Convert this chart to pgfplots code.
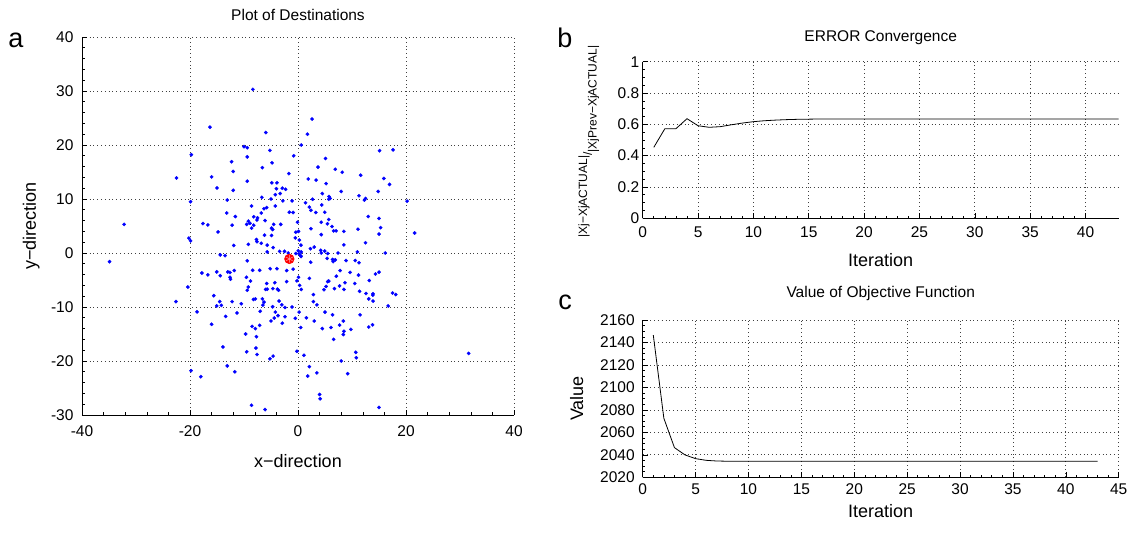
\documentclass[border=0pt]{standalone}
\usepackage{fontspec}
\setmainfont{Liberation Sans}
\usepackage{pgfplots}
\pgfplotsset{compat=1.18}
\pgfplotsset{
 mystyle/.style={
  scale only axis,
  axis x line*=bottom, axis y line*=left,
  axis line style={black, line width=0.9bp},
  tick align=inside,
  major tick length=5bp, minor tick length=2.5bp,
  tick style={black, line width=0.6bp},
  grid=major,
  major grid style={black!75, line width=0.7bp, dash pattern=on 0.8bp off 3bp},
  /pgf/number format/assume math mode=true,
  /pgf/number format/1000 sep={},
  scaled ticks=false,
  tick label style={font=\fontsize{15.5bp}{18bp}\selectfont},
 }
}
\begin{document}
\begin{tikzpicture}[x=1bp,y=1bp]
\path[use as bounding box] (0,0) rectangle (1138,533);

% ---------------- panel a ----------------
\begin{axis}[mystyle,
  at={(82bp,118bp)}, anchor=south west,
  width=432bp, height=378bp,
  xmin=-40, xmax=40, ymin=-30, ymax=40,
  xtick={-40,-20,0,20,40}, ytick={-30,-20,...,40},
  minor x tick num=4, minor y tick num=4,
  xticklabel style={yshift=-7bp},
  yticklabel style={xshift=-5bp},
  title={Plot of Destinations},
  every axis title/.style={at={(axis description cs:0.5,1)}, anchor=base, yshift=16.5bp, font=\fontsize{15.5bp}{18bp}\selectfont},
  xlabel={x−direction},
  every axis x label/.style={at={(axis description cs:0.5,0)}, anchor=base, yshift=-53bp, font=\fontsize{18bp}{21bp}\selectfont},
  ylabel={y−direction},
  every axis y label/.style={at={(axis description cs:-0.1065,0.5)}, rotate=90, anchor=base, font=\fontsize{18bp}{21bp}\selectfont},
]
\addplot[only marks, mark=*, mark size=1.7bp, mark options={draw=blue, fill=blue, line width=0.3bp}] table {
x y
-16.3 23.3
-5.96 22.3
-10.0 19.7
-9.4 19.5
-5.2 19.0
-19.75 18.2
-0.8 18.0
-9.4 17.8
-12.3 16.9
-4.8 16.7
-6.6 15.8
-12.0 15.1
-1.7 14.7
-22.5 13.9
-16.0 14.1
-9.4 13.3
-4.85 13.0
-3.9 13.0
-15.0 12.05
-4.0 11.9
-2.9 12.0
-2.3 11.8
-12.0 11.6
-3.3 11.0
-4.2 10.8
-6.7 10.3
-19.9 9.5
-13.1 9.8
-5.0 10.0
-2.8 9.65
-1.1 9.65
-8.6 8.7
-4.2 8.7
-5.8 8.4
-6.3 8.2
-6.8 7.4
-13.2 7.4
-1.6 7.55
-0.9 7.5
-11.6 6.75
-8.2 6.7
-7.5 6.5
-7.6 6.1
-9.2 5.9
-6.1 6.0
-8.9 5.5
-17.6 5.45
-16.7 5.2
-9.5 5.3
-12.2 5.15
-8.2 5.15
-4.5 5.3
-3.2 5.3
-8.6 4.6
-4.9 4.6
-4.7 4.35
-0.1 5.7
-14.8 3.9
-0.4 3.85
0.1 4.0
-6.2 3.3
-4.9 3.25
-20.2 2.75
-19.9 2.25
-0.5 2.8
0.25 2.4
-7.7 2.5
-7.6 2.1
-6.8 1.8
-9.2 1.6
-11.9 1.4
-5.7 1.45
-4.6 1.0
-3.4 0.3
-2.5 0.3
-5.7 0.2
-14.4 -0.35
-13.5 -0.5
-1.8 0.0
0.05 0.4
-0.4 -0.1
2.6 24.8
1.74 22.0
0.6 20.0
15.1 18.95
17.6 19.1
5.1 17.5
3.7 15.9
6.9 15.5
8.2 14.95
11.6 14.4
1.9 13.7
3.35 13.5
15.9 13.8
5.2 12.85
16.95 12.7
8.0 11.4
14.85 11.4
4.5 11.0
5.75 10.45
5.95 10.1
5.7 9.95
11.3 10.6
12.5 10.1
12.3 9.8
2.7 9.95
20.2 9.6
1.4 9.3
2.1 8.5
4.4 8.9
2.4 7.9
3.3 7.5
4.95 7.55
13.0 6.75
15.0 6.4
5.7 6.2
4.3 5.7
5.45 5.4
6.3 4.9
2.4 4.5
15.3 4.7
11.1 4.4
6.6 4.1
7.05 4.1
8.5 4.0
4.3 3.4
15.0 3.5
21.6 3.7
12.5 1.9
8.5 1.5
0.55 1.45
3.0 1.1
2.3 0.8
4.2 0.5
4.95 0.35
0.6 0.2
4.3 0.0
5.5 -0.1
7.4 0.0
11.0 0.2
16.15 0.0
0.5 -0.5
0.2 -0.15
-9.4 -1.45
-17.8 -3.7
-16.7 -4.05
-15.05 -3.5
-14.4 -4.2
-13.0 -3.5
-12.6 -3.6
-11.8 -3.25
-12.6 -4.5
-12.5 -4.85
-9.55 -4.5
-8.4 -3.2
-7.1 -3.2
-5.15 -2.9
-3.9 -2.9
-2.1 -3.25
-0.9 -3.0
-8.8 -5.2
-20.4 -6.3
-9.2 -6.3
-9.4 -6.9
-5.8 -5.65
-4.3 -5.5
-6.0 -6.75
-5.7 -6.7
-4.65 -6.6
-3.8 -6.7
-3.6 -6.9
-2.1 -5.3
-0.2 -5.15
0.1 -4.5
0.3 -6.0
-22.6 -9.0
-15.6 -7.9
-14.5 -9.0
-15.05 -9.8
-14.2 -9.7
-12.2 -9.0
-10.5 -9.4
-8.25 -8.6
-7.9 -8.5
-6.6 -8.5
-6.3 -9.1
-6.5 -9.65
-3.5 -8.9
-3.0 -9.6
-4.7 -9.96
-2.4 -10.1
-1.1 -10.0
-18.7 -10.9
-13.4 -11.75
-11.3 -11.1
-7.0 -10.8
-4.2 -10.95
-3.7 -11.6
-4.4 -12.05
-5.0 -12.6
-2.4 -11.8
-0.5 -12.1
0.2 -10.95
-2.9 -13.0
-16.0 -13.2
-8.5 -13.6
-7.9 -14.0
-7.1 -13.4
0.5 -13.8
-9.7 -15.0
-7.7 -15.5
-13.9 -17.4
-7.8 -17.6
-9.5 -18.3
-7.6 -18.8
-0.2 -18.2
-4.6 -19.1
-5.2 -19.6
-19.8 -21.8
-13.1 -20.9
-11.7 -22.0
-18.0 -22.9
-8.6 -28.2
-6.1 -29.0
0.56 -0.66
2.35 -1.7
5.4 -1.0
6.4 -1.2
6.9 -1.27
6.5 -1.6
8.9 -1.4
10.6 -1.4
11.3 -1.8
7.8 -3.25
9.65 -3.6
11.2 -4.1
14.35 -3.9
15.0 -3.55
2.1 -4.7
7.1 -4.3
5.7 -5.2
5.5 -5.3
13.2 -5.1
8.7 -5.5
10.5 -5.65
0.6 -6.75
4.8 -6.8
5.2 -6.2
7.7 -6.1
6.75 -6.6
8.5 -6.75
11.4 -7.1
12.6 -7.5
13.9 -7.56
13.85 -7.8
17.5 -7.4
18.1 -7.7
2.85 -7.7
13.1 -8.5
13.9 -8.9
2.85 -9.0
3.5 -9.6
16.7 -9.8
1.55 -12.0
3.0 -12.6
5.0 -10.95
6.4 -11.45
11.5 -11.45
4.5 -14.0
6.1 -13.8
7.7 -13.35
8.4 -12.6
9.8 -14.15
8.5 -14.5
8.4 -15.1
13.1 -13.7
13.8 -13.3
6.6 -16.0
10.7 -18.4
10.8 -19.4
1.1 -18.95
8.0 -20.0
2.1 -21.05
3.5 -22.2
1.8 -22.8
9.2 -22.35
4.0 -26.2
4.1 -27.0
15.0 -28.6
-34.9 -1.6
-32.2 5.3
-8.35 30.3
31.6 -18.6
};
\addplot[only marks, mark=*, mark size=4.8bp, mark options={draw=red, fill=red, line width=0.6bp}] coordinates {(-1.6,-1.1)};
\addplot[only marks, mark=asterisk, mark size=3.8bp, mark options={draw=red!35, line width=0.5bp}] coordinates {(-1.6,-1.1)};
\end{axis}

% ---------------- panel b ----------------
\begin{axis}[mystyle,
  at={(642.7bp,314.7bp)}, anchor=south west,
  width=476bp, height=156.6bp,
  xmin=0, xmax=43, ymin=0, ymax=1,
  xtick={0,5,10,15,20,25,30,35,40}, ytick={0,0.2,0.4,0.6,0.8,1},
  minor x tick num=4, minor y tick num=3,
  xticklabel style={yshift=-5bp},
  title={ERROR Convergence},
  every axis title/.style={at={(axis description cs:0.5,1)}, anchor=base, yshift=19.7bp, font=\fontsize{15.5bp}{18bp}\selectfont},
  xlabel={Iteration},
  every axis x label/.style={at={(axis description cs:0.5,0)}, anchor=base, yshift=-48.7bp, font=\fontsize{18bp}{21bp}\selectfont},
  ylabel={|Xj−XjACTUAL|\raisebox{-0.4em}{/}\raisebox{-0.8em}{|XjPrev−XjACTUAL|}},
  every axis y label/.style={at={(axis description cs:-0.117,0.49)}, rotate=90, anchor=base, font=\fontsize{12bp}{14bp}\selectfont},
]
\addplot[black, line width=0.8bp] coordinates {
(1,0.453) (2,0.572) (3,0.572) (4,0.636) (5,0.591) (6,0.581) (7,0.585) (8,0.597)
(9,0.608) (10,0.617) (11,0.623) (12,0.627) (13,0.630) (14,0.632) (15,0.633)
(16,0.634) (17,0.634) (18,0.634) (19,0.634) (20,0.634) (21,0.634) (22,0.634)
(23,0.634) (24,0.634) (25,0.634) (26,0.634) (27,0.634) (28,0.634) (29,0.634)
(30,0.634) (31,0.634) (32,0.634) (33,0.634) (34,0.634) (35,0.634) (36,0.634)
(37,0.634) (38,0.634) (39,0.634) (40,0.634) (41,0.634) (42,0.634) (43,0.634)
};
\end{axis}

% ---------------- panel c ----------------
\begin{axis}[mystyle,
  at={(642.7bp,55.7bp)}, anchor=south west,
  width=476bp, height=157.3bp,
  xmin=0, xmax=45, ymin=2020, ymax=2160,
  xtick={0,5,...,45}, ytick={2020,2040,...,2160},
  minor x tick num=4, minor y tick num=3,
  xticklabel style={yshift=-3bp},
  yticklabel style={xshift=-4.5bp},
  title={Value of Objective Function},
  every axis title/.style={at={(axis description cs:0.5,1)}, anchor=base, yshift=22bp, font=\fontsize{15.5bp}{18bp}\selectfont},
  xlabel={Iteration},
  every axis x label/.style={at={(axis description cs:0.5,0)}, anchor=base, yshift=-40bp, font=\fontsize{18bp}{21bp}\selectfont},
  ylabel={Value},
  every axis y label/.style={at={(axis description cs:-0.125,0.5)}, rotate=90, anchor=base, font=\fontsize{18bp}{21bp}\selectfont},
]
\addplot[black, line width=0.8bp] coordinates {
(1,2146.6) (2,2072.5) (3,2046.4) (4,2039.9) (5,2036.6) (6,2035.1) (7,2034.5)
(8,2034.3) (9,2034.2) (10,2034.2) (11,2034.2) (12,2034.2) (13,2034.2) (14,2034.2)
(15,2034.2) (16,2034.2) (17,2034.2) (18,2034.2) (19,2034.2) (20,2034.2) (21,2034.2)
(22,2034.2) (23,2034.2) (24,2034.2) (25,2034.2) (26,2034.2) (27,2034.2) (28,2034.2)
(29,2034.2) (30,2034.2) (31,2034.2) (32,2034.2) (33,2034.2) (34,2034.2) (35,2034.2)
(36,2034.2) (37,2034.2) (38,2034.2) (39,2034.2) (40,2034.2) (41,2034.2) (42,2034.2)
(43,2034.2)
};
\end{axis}

% panel letters
\node[anchor=base, font=\fontsize{27bp}{30bp}\selectfont] at (16,485) {a};
\node[anchor=base, font=\fontsize{27bp}{30bp}\selectfont] at (565,485) {b};
\node[anchor=base, font=\fontsize{27bp}{30bp}\selectfont] at (565,223) {c};
\end{tikzpicture}
\end{document}
